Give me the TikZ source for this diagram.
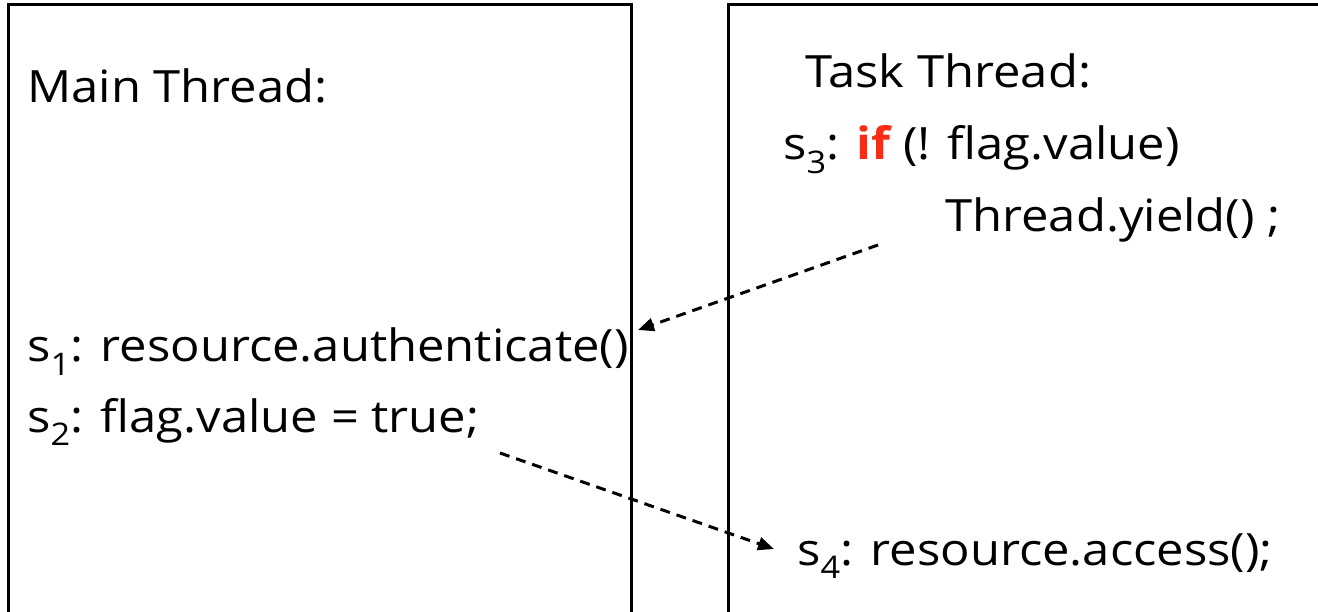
\documentclass[tikz,border=0pt]{standalone}
\usepackage{fontspec}
\setmainfont{Open Sans}[FakeStretch=1.1]
\usetikzlibrary{arrows.meta}
\definecolor{kwred}{RGB}{250,45,20}
\tikzset{
  frame/.style={line width=3pt, draw=black},
  code/.style={anchor=base west, inner sep=0pt, font=\fontsize{44.5}{52}\selectfont},
  flow/.style={line width=3pt, dash pattern=on 10pt off 7pt, -{Triangle[length=16pt,width=13pt]}},
}
\newcommand{\kw}[1]{\textcolor{kwred}{\bfseries #1}}
\begin{document}
\begin{tikzpicture}[x=1pt,y=-1pt]
\useasboundingbox (0,0) rectangle (1318,612);
\clip (0,0) rectangle (1318,612);
\fill[white] (0,0) rectangle (1318,612);
% thread frames
\draw[frame] (8,640) -- (8,5) -- (631,5) -- (631,640);
\draw[frame] (728,640) -- (728,5) -- (1340,5);
% main thread
\node[code] (mainT) at (27,103) {Main Thread:};
\node[code] (s1) at (27,362) {s\textsubscript{1}: resource.authenticate()};
\node[code] (s2) at (27,432) {s\textsubscript{2}: flag.value = true;};
% task thread
\node[code] (taskT) at (805,88) {Task Thread:};
\node[code] (s3) at (783,160) {s\textsubscript{3}: \kw{if} (! flag.value)};
\node[code] (yield) at (945,232) {Thread.yield() ;};
\node[code] (s4) at (797,565) {s\textsubscript{4}: resource.access();};
% connectors
\coordinate (a1s) at (878,245);
\coordinate (a1e) at (638,330);
\coordinate (a2s) at (500,453);
\coordinate (a2e) at (774,549);
\draw[flow] (a1s) -- (a1e);
\draw[flow] (a2s) -- (a2e);
\end{tikzpicture}
\end{document}
